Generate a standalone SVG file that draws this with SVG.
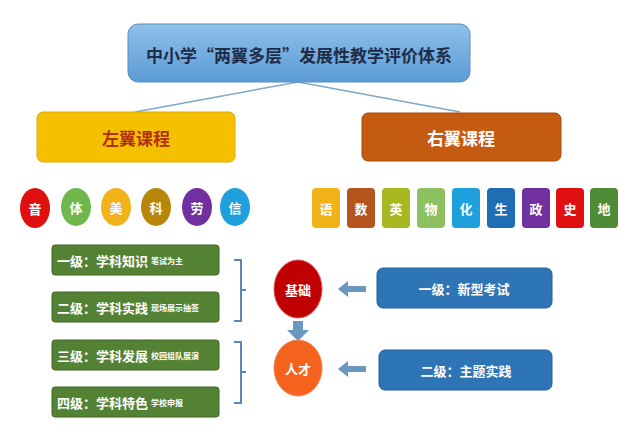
<svg xmlns="http://www.w3.org/2000/svg" width="631" height="428" viewBox="0 0 631 428">
<style>
text{font-family:"Noto Sans CJK SC","Noto Sans",sans-serif;font-weight:bold;text-anchor:middle;dominant-baseline:central}
.w{fill:#fff}
.sub{font-size:13px}
.sm{font-size:8px}
.lvl{fill:#548235;stroke:#3f6428;stroke-width:1}
.blue{fill:#2e75b6;stroke:#25609a}
.c{font-size:13px;fill:#fff}
.conn{stroke:#7fa7cc;stroke-width:1.5;fill:none}
.brace{stroke:#5b86b8;stroke-width:2;fill:none}
</style>
<defs>
<linearGradient id="tg" x1="0" y1="0" x2="0" y2="1"><stop offset="0" stop-color="#8fc0ea"/><stop offset="1" stop-color="#5b9bd5"/></linearGradient>
<path id="arrL" d="M0,0 l10,-8 v5 h18 v6 h-18 v5 z" fill="#6a96c2"/>
</defs>
<g id="connectors">
<path class="conn" d="M298,82 L135,112 M298,82 L460,112"/>
<path class="brace" d="M234,260 h7 v30 h5 M246,290 h-5 v31 h-7"/>
<path class="brace" d="M234,342 h7 v30 h5 M246,372 h-5 v31 h-7"/>
<path d="M293,321 h10 v9 h6 l-11,11 l-11,-11 h6 z" fill="#6a96c2"/>
<use href="#arrL" x="338" y="289"/>
<use href="#arrL" x="338" y="369"/>
</g>
<g id="title"><rect x="128" y="24" width="342" height="58" rx="10" fill="url(#tg)" stroke="#5a8fc2"/><text x="299" y="54" font-size="17" fill="#1f2d4a">中小学“两翼多层”发展性教学评价体系</text></g>
<g id="left"><rect x="37" y="112" width="198" height="50" rx="6" fill="#f5c000" stroke="#e0a800"/><text x="136" y="137" font-size="17" fill="#b03010">左翼课程</text></g>
<g id="right"><rect x="362" y="113" width="199" height="48" rx="6" fill="#c55a11" stroke="#a94a0c"/><text x="461" y="137" font-size="17" class="w">右翼课程</text></g>
<g id="circles">
<ellipse cx="35" cy="208" rx="15" ry="20" fill="#e01010"/><text x="35" y="208" class="c">音</text>
<ellipse cx="76" cy="207" rx="15" ry="19" fill="#70b84c"/><text x="76" y="207" class="c">体</text>
<ellipse cx="116" cy="207" rx="15" ry="19" fill="#f2b21a"/><text x="116" y="207" class="c">美</text>
<ellipse cx="156" cy="207" rx="15" ry="19" fill="#b8860b"/><text x="156" y="207" class="c">科</text>
<ellipse cx="197" cy="207" rx="15" ry="19" fill="#7030a0"/><text x="197" y="207" class="c">劳</text>
<ellipse cx="235" cy="207" rx="15" ry="19" fill="#1ea0dc"/><text x="235" y="207" class="c">信</text>
</g>
<g id="squares">
<rect x="312" y="188" width="28" height="40" rx="4" fill="#f2b21a"/><text x="326" y="208" class="c">语</text>
<rect x="347" y="188" width="28" height="40" rx="4" fill="#b5541c"/><text x="361" y="208" class="c">数</text>
<rect x="382" y="188" width="28" height="40" rx="4" fill="#a8b820"/><text x="396" y="208" class="c">英</text>
<rect x="417" y="188" width="28" height="40" rx="4" fill="#8cc060"/><text x="431" y="208" class="c">物</text>
<rect x="452" y="188" width="28" height="40" rx="4" fill="#1ea0dc"/><text x="466" y="208" class="c">化</text>
<rect x="487" y="188" width="28" height="40" rx="4" fill="#1f6eb4"/><text x="501" y="208" class="c">生</text>
<rect x="522" y="188" width="28" height="40" rx="4" fill="#7030a0"/><text x="536" y="208" class="c">政</text>
<rect x="556" y="188" width="28" height="40" rx="4" fill="#e01010"/><text x="570" y="208" class="c">史</text>
<rect x="590" y="188" width="28" height="40" rx="4" fill="#4f8a34"/><text x="604" y="208" class="c">地</text>
</g>
<g id="lvl1"><rect class="lvl" x="52" y="245" width="167" height="30" rx="3"/><text x="52" y="260" class="w sub" style="text-anchor:start" dx="5">一级：学科知识 <tspan class="sm">笔试为主</tspan></text></g>
<g id="lvl2"><rect class="lvl" x="52" y="292" width="167" height="30" rx="3"/><text x="52" y="307" class="w sub" style="text-anchor:start" dx="5">二级：学科实践 <tspan class="sm">现场展示抽签</tspan></text></g>
<g id="lvl3"><rect class="lvl" x="52" y="340" width="167" height="30" rx="3"/><text x="52" y="355" class="w sub" style="text-anchor:start" dx="5">三级：学科发展 <tspan class="sm">校园组队展演</tspan></text></g>
<g id="lvl4"><rect class="lvl" x="52" y="387" width="167" height="30" rx="3"/><text x="52" y="402" class="w sub" style="text-anchor:start" dx="5">四级：学科特色 <tspan class="sm">学校申报</tspan></text></g>
<g id="jichu"><ellipse cx="298" cy="289" rx="24" ry="29" fill="#c00000" stroke="#e05050"/><text x="298" y="289" class="c">基础</text></g>
<g id="rencai"><ellipse cx="298" cy="368" rx="24" ry="28" fill="#f4631e" stroke="#f08050"/><text x="298" y="368" class="c">人才</text></g>
<g id="b1"><rect class="blue" x="377" y="268" width="175" height="40" rx="6"/><text x="464" y="288" class="w" font-size="13">一级：新型考试</text></g>
<g id="b2"><rect class="blue" x="379" y="350" width="173" height="40" rx="6"/><text x="466" y="370" class="w" font-size="13">二级：主题实践</text></g>
</svg>
